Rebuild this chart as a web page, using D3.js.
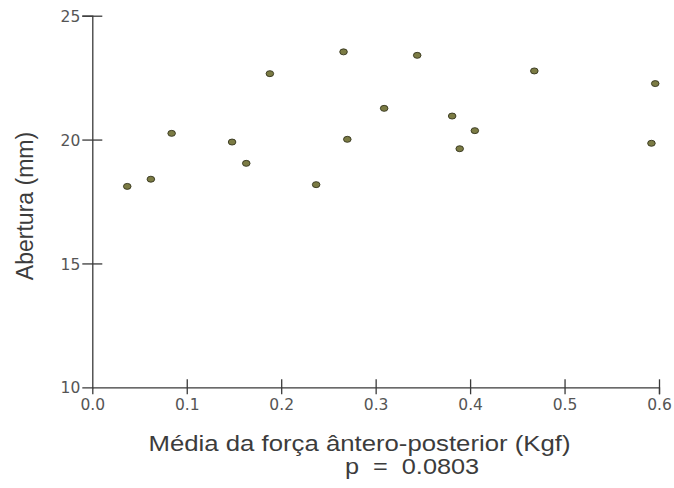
<!DOCTYPE html>
<html>
<head>
<meta charset="utf-8">
<script src="https://cdn.jsdelivr.net/npm/d3@7"></script>
<style>
  body { margin: 0; background: #fff; }
  svg { display: block; }
</style>
</head>
<body>
<div id="root"></div>
<script>
// data
const forca = [0.037, 0.062, 0.084, 0.148, 0.163, 0.188, 0.237, 0.266, 0.270,
               0.309, 0.344, 0.381, 0.389, 0.405, 0.468, 0.592, 0.596]
const abertura = [18.11, 18.40, 20.25, 19.90, 19.04, 22.66, 18.18, 23.54, 20.01,
                  21.26, 23.40, 20.95, 19.63, 20.36, 22.77, 19.85, 22.26]
const xTicks = [0, 0.1, 0.2, 0.3, 0.4, 0.5, 0.6]
const yTicks = [10, 15, 20, 25]
const xTitle = "Média da força ântero-posterior (Kgf)"
const pText = "p  =  0.0803"
const yTitle = "Abertura (mm)"

const w = 674, h = 488
const mLeft = 92.3, mRight = 659, mTop = 15.7, mBottom = 387.3

const x = d3.scaleLinear().domain([0, 0.6]).range([mLeft, mRight])
const y = d3.scaleLinear().domain([10, 25]).range([mBottom, mTop])

const svg = d3.select("#root").append("svg")
    .attr("width", w)
    .attr("height", h)

// y axis
const yAxis = svg.append("g")
    .attr("transform", `translate(${mLeft},0)`)
    .call(d3.axisLeft(y).tickValues(yTicks).tickSize(10).tickPadding(2).tickFormat(d3.format("d")))
yAxis.selectAll("line").attr("x1", 10)
yAxis.selectAll(".tick").filter(d => d === 10).select("line").remove()

// x axis
const xAxis = svg.append("g")
    .attr("transform", `translate(0,${mBottom})`)
    .call(d3.axisBottom(x).tickValues(xTicks).tickSize(7).tickPadding(5).tickFormat(d3.format(".1f")))
xAxis.selectAll("line").attr("y1", -8)
xAxis.selectAll(".tick").filter(d => d === 0).select("line").remove()

svg.selectAll(".domain").attr("stroke", "#3a3a3a").attr("stroke-width", 1.3)
svg.selectAll(".tick line").attr("stroke", "#3a3a3a").attr("stroke-width", 1.3)
svg.selectAll(".tick text")
    .attr("fill", "#555")
    .style("font-family", "DejaVu Sans")
    .style("font-size", "15.5px")
yAxis.selectAll(".tick text").attr("dy", "0.36em")

// points
svg.selectAll("ellipse.pt")
    .data(forca.map((v, i) => [v, abertura[i]]))
    .enter()
    .append("ellipse")
    .attr("class", "pt")
    .attr("cx", d => x(d[0]))
    .attr("cy", d => y(d[1]))
    .attr("rx", 3.8)
    .attr("ry", 3)
    .attr("fill", "#7b7b44")
    .attr("stroke", "#33331c")
    .attr("stroke-width", 0.9)

// titles
const titles = svg.append("g")
    .style("font-family", "'Liberation Sans', Arial, sans-serif")
    .style("font-size", "22px")
    .attr("fill", "#3c3c3c")

titles.append("text")
    .attr("text-anchor", "middle")
    .attr("transform", "translate(359.5,451) scale(1.17,1)")
    .text(xTitle)

titles.append("text")
    .attr("text-anchor", "middle")
    .attr("xml:space", "preserve")
    .style("white-space", "pre")
    .attr("transform", "translate(412,474) scale(1.15,1)")
    .text(pText)

titles.append("text")
    .attr("text-anchor", "middle")
    .attr("transform", "translate(33,206) rotate(-90)")
    .style("font-size", "23px")
    .text(yTitle)
</script>
</body>
</html>
